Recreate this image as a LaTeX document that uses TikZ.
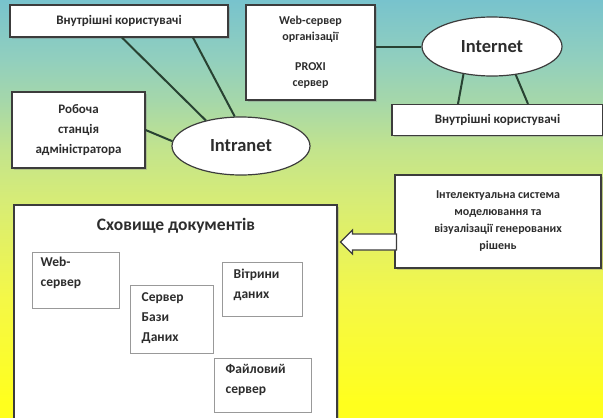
\documentclass[tikz,border=0pt]{standalone}
\usepackage{fontspec}
\setmainfont{Carlito}
\usetikzlibrary{calc,shapes.geometric,shapes.arrows,shadows}
\definecolor{bgteal}{RGB}{120,195,205}
\definecolor{bgsea}{RGB}{145,207,190}
\definecolor{bgmint}{RGB}{165,215,170}
\definecolor{bggreen}{RGB}{195,228,140}
\definecolor{bgpale}{RGB}{215,236,118}
\definecolor{bglime}{RGB}{245,248,70}
\definecolor{bgyel}{RGB}{255,255,30}
\definecolor{lnk}{RGB}{40,66,50}
\definecolor{edge}{RGB}{60,60,60}
\definecolor{txt}{RGB}{45,45,45}
\pgfdeclareverticalshading{bgshade}{100bp}{color(0bp)=(bgyel); color(27bp)=(bgyel);
  color(39bp)=(bglime); color(51bp)=(bgpale); color(57bp)=(bggreen); color(63bp)=(bgmint);
  color(68bp)=(bgsea); color(75bp)=(bgteal); color(100bp)=(bgteal)}
\tikzset{
  box/.style={rectangle,draw=edge,line width=1.2pt,fill=white,text=txt,align=center,
    drop shadow={shadow xshift=1.5pt,shadow yshift=-1.5pt,opacity=0.35},
    font=\fontsize{13}{20}\selectfont\bfseries},
  oval/.style={ellipse,draw=edge,line width=1.2pt,fill=white,text=txt,
    font=\fontsize{18.5}{20}\selectfont\bfseries},
  inbox/.style={rectangle,draw=gray!80,line width=1pt,fill=white,
    drop shadow={shadow xshift=1pt,shadow yshift=-1pt,opacity=0.25}},
  intxt/.style={text=txt,align=left,inner sep=0pt,font=\fontsize{13.5}{20}\selectfont\bfseries},
  link/.style={draw=lnk,line width=2pt},
}

\begin{document}
\begin{tikzpicture}[x=1pt,y=-1pt]
\useasboundingbox (0,0) rectangle (603,418);
\shade[shading=bgshade] (0,0) rectangle (603,418);

% intranet side
\node[box,minimum width=218,minimum height=32] (intusr) at (119,21) {Внутрішні користувачі};
\node[box,minimum width=133,minimum height=76] (adm) at (78.5,130) {Робоча\\станція\\адміністратора};
\node[oval,minimum width=138,minimum height=58] (intranet) at (241,146) {Intranet};
\draw[link] ([xshift=3]intusr.south) -- (intranet.144);
\draw[link] ([xshift=74]intusr.south) -- (intranet.102);
\draw[link] (adm.east) -- (intranet.176);

% internet side
\node[box,minimum width=129,minimum height=95,font=\fontsize{12}{16}\selectfont\bfseries] (websrv) at (310.5,52.5)
  {Web-сервер\\організації\\[14pt]PROXI\\сервер};
\node[oval,minimum width=140,minimum height=59] (internet) at (492,46.5) {Internet};
\node[box,minimum width=211,minimum height=31] (extusr) at (497.5,120) {Внутрішні користувачі};
\draw[link] (internet.west -| websrv.east) -- (internet.west);
\draw[link] (internet.224) -- ([xshift=-39.5]extusr.north);
\draw[link] (internet.310) -- ([xshift=30.5]extusr.north);

% document storage
\node[box,minimum width=323,minimum height=220] (storage) at (175.5,315) {};
\node[text=txt,font=\fontsize{17.5}{20}\selectfont\bfseries] (stitle) at (176,226) {Сховище документів};
\node[inbox,minimum width=87,minimum height=56,
  label={[intxt,anchor=north west,xshift=9,yshift=-5]north west:Web-\\сервер}] (dbweb) at (75.5,280) {};
\node[inbox,minimum width=83,minimum height=68,
  label={[intxt,anchor=north west,xshift=12,yshift=-8]north west:Сервер\\Бази\\Даних}] (dbsrv) at (171.5,319) {};
\node[inbox,minimum width=80,minimum height=54,
  label={[intxt,anchor=north west,xshift=12,yshift=-7]north west:Вітрини\\даних}] (dbmart) at (262,289) {};
\node[inbox,minimum width=97,minimum height=54,
  label={[intxt,anchor=north west,xshift=12,yshift=-7]north west:Файловий\\сервер}] (dbfile) at (262.5,385) {};

% modelling system
\node[box,minimum width=206,minimum height=93,font=\fontsize{12}{17}\selectfont\bfseries] (intel) at (498,221.5)
  {Інтелектуальна система\\моделювання та\\візуалізації генерованих\\рішень};
\coordinate (atip) at (storage.east |- 0,242);
\node[single arrow,draw=edge,line width=1.2pt,fill=white,shape border rotate=180,anchor=tip,
  minimum height=56,minimum width=24,single arrow head extend=3pt,inner sep=5.5pt]
  (feed) at ([xshift=2]atip) {};
\end{tikzpicture}
\end{document}
